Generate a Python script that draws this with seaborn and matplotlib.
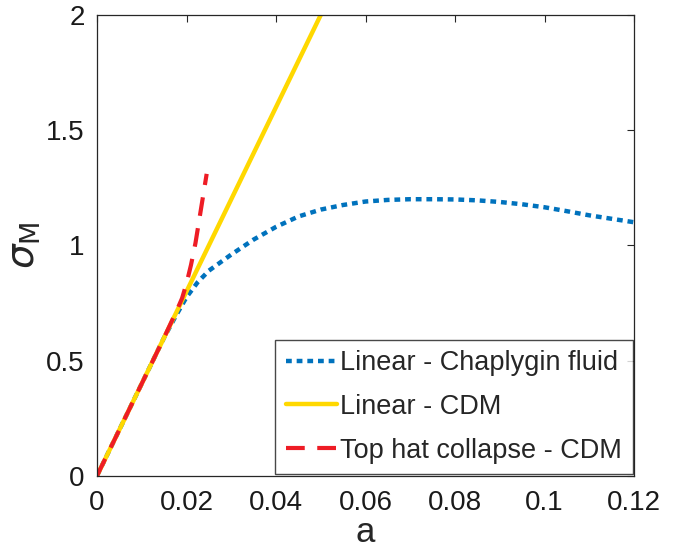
import matplotlib
matplotlib.use("Agg")
import matplotlib.pyplot as plt
import seaborn as sns
import pandas as pd

# values
a_chaplygin = [0, 0.005, 0.01, 0.015, 0.0175, 0.02, 0.0225, 0.025, 0.03, 0.035,
               0.04, 0.045, 0.05, 0.055, 0.06, 0.065, 0.07, 0.075, 0.08, 0.085,
               0.09, 0.095, 0.1, 0.105, 0.11, 0.115, 0.12]
sigma_chaplygin = [0, 0.2, 0.4, 0.6, 0.69, 0.775, 0.84, 0.89, 0.96, 1.025,
                   1.08, 1.125, 1.155, 1.175, 1.19, 1.197, 1.2, 1.2, 1.199, 1.195,
                   1.188, 1.178, 1.165, 1.148, 1.13, 1.115, 1.10]

a_cdm = [0, 0.05]
sigma_cdm = [0, 2.0]

a_tophat = [0, 0.005, 0.01, 0.015, 0.018, 0.019, 0.02, 0.021, 0.022, 0.023, 0.024, 0.0245]
sigma_tophat = [0, 0.2, 0.4, 0.6, 0.725, 0.77, 0.835, 0.915, 1.01, 1.13, 1.25, 1.31]

labels = ["Linear - Chaplygin fluid", "Linear - CDM", "Top hat collapse - CDM"]

sns.set_style("white")
plt.rcParams['font.family'] = ['Liberation Sans', 'DejaVu Sans']
plt.rcParams['mathtext.fontset'] = 'dejavusans'

fig = plt.figure(figsize=(6.93, 5.5), dpi=100)
ax = fig.add_axes([0.14, 0.135, 0.775, 0.838])

df_ch = pd.DataFrame({"a": a_chaplygin, "sigma": sigma_chaplygin})
df_cdm = pd.DataFrame({"a": a_cdm, "sigma": sigma_cdm})
df_th = pd.DataFrame({"a": a_tophat, "sigma": sigma_tophat})

sns.lineplot(data=df_ch, x="a", y="sigma", ax=ax, color="#0072BD", linewidth=3.2,
             label=labels[0])
ax.lines[-1].set_dashes([1.3, 1.1])
sns.lineplot(data=df_cdm, x="a", y="sigma", ax=ax, color="#FFD800", linewidth=3.2,
             label=labels[1])
sns.lineplot(data=df_th, x="a", y="sigma", ax=ax, color="#EE1C25", linewidth=3.0,
             label=labels[2])
ax.lines[-1].set_dashes([4.5, 3.0])

ax.set_xlim(0, 0.12)
ax.set_ylim(0, 2)
ax.set_xticks([0, 0.02, 0.04, 0.06, 0.08, 0.1, 0.12])
ax.set_xticklabels(["0", "0.02", "0.04", "0.06", "0.08", "0.1", "0.12"])
ax.set_yticks([0, 0.5, 1, 1.5, 2])
ax.set_yticklabels(["0", "0.5", "1", "1.5", "2"])
ax.tick_params(direction="in", length=5, width=0.8, colors="#262626",
               labelsize=20, labelcolor="#1a1a1a", top=True, right=True)
ax.tick_params(axis="x", pad=10)
ax.tick_params(axis="y", pad=9)
for s in ax.spines.values():
    s.set_color("#262626")
    s.set_linewidth(0.9)

ax.set_xlabel("a", fontsize=25, labelpad=0)
ax.set_ylabel(r"$\sigma_{\mathrm{M}}$", fontsize=28, labelpad=2)

leg = ax.legend(loc="lower right", fontsize=19.5, frameon=True, fancybox=False,
                edgecolor="#1a1a1a", handlelength=1.9, handletextpad=0.1,
                labelspacing=0.65, borderpad=0.4, borderaxespad=0.05)
leg.get_frame().set_linewidth(1.0)

fig.savefig("out.png", dpi=100)
